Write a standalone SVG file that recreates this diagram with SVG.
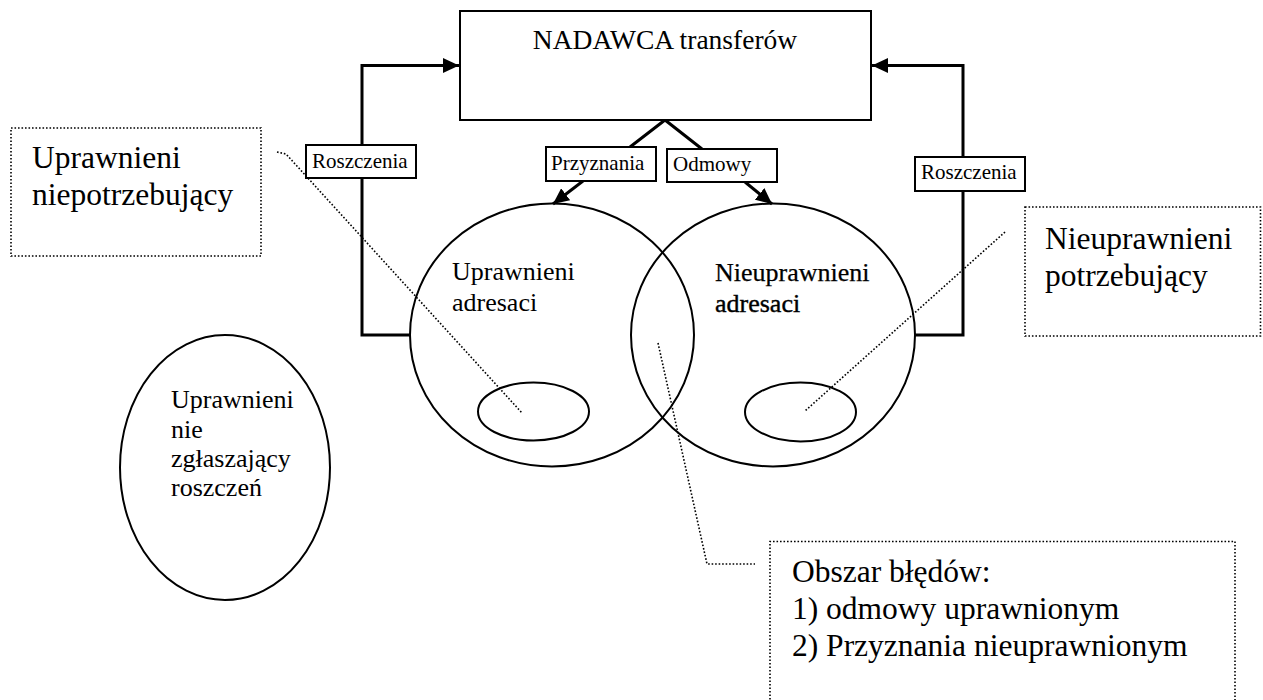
<svg xmlns="http://www.w3.org/2000/svg" width="1263" height="700" viewBox="0 0 1263 700" font-family="'Liberation Serif', 'Times New Roman', 'DejaVu Serif', serif">
<style>
text{font-family:'Liberation Serif','Times New Roman','DejaVu Serif',serif;fill:#000}
.thick{fill:none;stroke:#000;stroke-width:3}
.box{fill:#fff;stroke:#000;stroke-width:2}
.shape{fill:none;stroke:#000;stroke-width:2}
.dot{fill:none;stroke:#000;stroke-width:1.6;stroke-dasharray:1.6 1.9}
.lbl{font-size:21px}
.big{font-size:31.5px}
.mid{font-size:26px}
</style>
<defs>
<marker id="ah" viewBox="0 0 16 15" refX="16" refY="7.5" markerWidth="16" markerHeight="15" markerUnits="userSpaceOnUse" orient="auto">
<path d="M0,0 L16,7.5 L0,15 Z" fill="#000"/>
</marker>
</defs>
<g id="connectors">
<polyline class="thick" points="410,335 362,335 362,65.5 459,65.5" marker-end="url(#ah)"/>
<polyline class="thick" points="915,335 963,335 963,65.5 872,65.5" marker-end="url(#ah)"/>
<polyline class="thick" points="630,147 665,120 702,149"/>
<line class="thick" x1="583" y1="181" x2="553" y2="204" marker-end="url(#ah)"/>
<line class="thick" x1="745" y1="182" x2="772" y2="204" marker-end="url(#ah)"/>
<polyline class="dot" points="277,152 286,154 522,413"/>
<polyline class="dot" points="1005,232 805,411"/>
<polyline class="dot" points="658,343 707,564 755,564"/>
</g>
<g id="nadawca">
<rect class="box" x="460" y="11" width="411" height="109"/>
<text x="665" y="49" font-size="27.5" text-anchor="middle">NADAWCA transferów</text>
</g>
<g id="roszczenia-left">
<rect class="box" x="306" y="145" width="110" height="33"/>
<text class="lbl" x="312" y="168">Roszczenia</text>
</g>
<g id="roszczenia-right">
<rect class="box" x="915" y="157" width="110" height="34"/>
<text class="lbl" x="921" y="179">Roszczenia</text>
</g>
<g id="przyznania">
<rect class="box" x="546" y="147" width="110" height="34"/>
<text class="lbl" x="551" y="170">Przyznania</text>
</g>
<g id="odmowy">
<rect class="box" x="667" y="149" width="110" height="33"/>
<text class="lbl" x="673" y="171">Odmowy</text>
</g>
<g id="uprawnieni-adresaci">
<ellipse class="shape" cx="552" cy="335" rx="142" ry="131.5"/>
<text class="mid" x="452" y="280">Uprawnieni</text>
<text class="mid" x="452" y="311">adresaci</text>
</g>
<g id="nieuprawnieni-adresaci">
<ellipse class="shape" cx="773" cy="335" rx="142" ry="131.5"/>
<text class="mid" x="715" y="281" stroke="#000" stroke-width="0.25">Nieuprawnieni</text>
<text class="mid" x="715" y="312" stroke="#000" stroke-width="0.4">adresaci</text>
</g>
<g id="subset-left">
<ellipse class="shape" cx="533.5" cy="411.5" rx="55.5" ry="29"/>
</g>
<g id="subset-right">
<ellipse class="shape" cx="800.5" cy="412" rx="55.5" ry="29.5"/>
</g>
<g id="uprawnieni-nie-zglaszajacy">
<ellipse class="shape" cx="225" cy="467.5" rx="105" ry="132.5"/>
<text class="mid" x="171" y="408">Uprawnieni</text>
<text class="mid" x="171" y="437.5">nie</text>
<text class="mid" x="171" y="467">zgłaszający</text>
<text class="mid" x="171" y="496">roszczeń</text>
</g>
<g id="uprawnieni-niepotrzebujacy">
<rect class="dot" x="11" y="128" width="250" height="128"/>
<text class="big" x="32" y="168">Uprawnieni</text>
<text class="big" x="32" y="205">niepotrzebujący</text>
</g>
<g id="nieuprawnieni-potrzebujacy">
<rect class="dot" x="1025" y="207" width="235.5" height="129"/>
<text class="big" x="1045" y="249">Nieuprawnieni</text>
<text class="big" x="1045" y="286">potrzebujący</text>
</g>
<g id="obszar-bledow">
<path class="dot" d="M770,710 V541.5 H1235 V710"/>
<text class="big" x="792" y="581.5">Obszar błędów:</text>
<text class="big" x="792" y="619">1) odmowy uprawnionym</text>
<text class="big" x="792" y="656">2) Przyznania nieuprawnionym</text>
</g>
</svg>
